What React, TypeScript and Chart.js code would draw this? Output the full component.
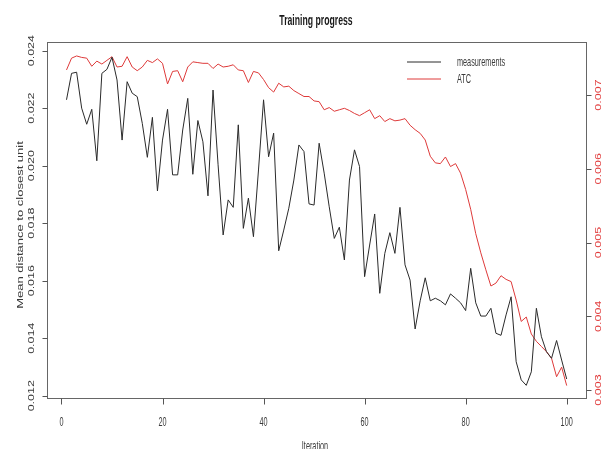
import React, { useEffect, useRef } from "react";
import { Chart, registerables } from "chart.js";

Chart.register(...registerables);

const iterations: number[] = Array.from({ length: 100 }, (_, i) => i + 1);

const measurements: number[] = [
  0.02229, 0.02321, 0.02325, 0.022, 0.02144, 0.02196, 0.02017, 0.02321, 0.02335, 0.02377,
  0.02298, 0.02089, 0.02292, 0.02252, 0.0224, 0.02147, 0.02029, 0.02168, 0.01912, 0.02089,
  0.02196, 0.01968, 0.01968, 0.02124, 0.02234, 0.0197, 0.02157, 0.02083, 0.01895, 0.02263,
  0.02003, 0.01759, 0.01881, 0.01855, 0.02142, 0.01782, 0.01887, 0.01753, 0.01985, 0.02229,
  0.02031, 0.02113, 0.01704, 0.01776, 0.01852, 0.0195, 0.02072, 0.02049, 0.01867, 0.01863,
  0.02078, 0.01974, 0.01857, 0.01747, 0.01786, 0.01672, 0.0195, 0.02055, 0.01997, 0.01614,
  0.01724, 0.01832, 0.01556, 0.01695, 0.01767, 0.01695, 0.01855, 0.01655, 0.01602, 0.01432,
  0.0153, 0.0161, 0.0153, 0.01539, 0.0153, 0.01516, 0.01554, 0.01539, 0.01523, 0.01496,
  0.01643, 0.01523, 0.01477, 0.01477, 0.01504, 0.01417, 0.0141, 0.01481, 0.01544, 0.01318,
  0.01255, 0.01236, 0.01283, 0.01504, 0.01405, 0.01353, 0.0133, 0.01392, 0.01324, 0.01258,
];

const atc: number[] = [
  0.00734, 0.0075, 0.00753, 0.00751, 0.0075, 0.00739, 0.00746, 0.00742, 0.00747, 0.00752,
  0.00738, 0.00739, 0.00752, 0.00738, 0.00733, 0.00738, 0.00747, 0.00744, 0.00749, 0.00743,
  0.00715, 0.00732, 0.00733, 0.00718, 0.00738, 0.00745, 0.00744, 0.00743, 0.00743, 0.00736,
  0.00742, 0.00738, 0.00739, 0.00741, 0.00734, 0.00733, 0.00717, 0.00732, 0.0073, 0.00721,
  0.0071, 0.00704, 0.00716, 0.00711, 0.00712, 0.00706, 0.00702, 0.00698, 0.00698, 0.00692,
  0.00691, 0.0068, 0.00683, 0.00678, 0.0068, 0.00682, 0.00679, 0.00675, 0.00672, 0.00676,
  0.0068, 0.00668, 0.00672, 0.00664, 0.00668, 0.00665, 0.00666, 0.00668, 0.00659, 0.00653,
  0.00648, 0.00639, 0.00617, 0.00608, 0.00607, 0.00616, 0.00603, 0.00607, 0.00594, 0.00572,
  0.00545, 0.00512, 0.00486, 0.00463, 0.00441, 0.00445, 0.00455, 0.0045, 0.00447, 0.00422,
  0.00393, 0.00399, 0.00376, 0.00366, 0.00359, 0.00352, 0.00343, 0.00318, 0.00331, 0.00306,
];

const xTicks: number[] = [0, 20, 40, 60, 80, 100];
const leftTicks: number[] = [0.012, 0.014, 0.016, 0.018, 0.02, 0.022, 0.024];
const rightTicks: number[] = [0.003, 0.004, 0.005, 0.006, 0.007];
const seriesNames: string[] = ["measurements", "ATC"];

const TITLE = "Training progress";
const X_TITLE = "Iteration";
const Y_TITLE = "Mean distance to closest unit";

const BLACK = "#2a2a2a";
const RED = "rgb(222,58,58)";
const TEXT = "#3a3a3a";
const FONT = "'Liberation Sans', Arial, sans-serif";

function drawText(
  ctx: CanvasRenderingContext2D,
  s: string,
  x: number,
  y: number,
  o: { font: string; color: string; rot?: number; sx?: number; align?: CanvasTextAlign }
) {
  ctx.save();
  ctx.translate(x, y);
  ctx.scale(o.sx ?? 1, 1);
  ctx.rotate(o.rot ?? 0);
  ctx.font = o.font;
  ctx.fillStyle = o.color;
  ctx.textAlign = o.align ?? "center";
  ctx.textBaseline = "middle";
  ctx.fillText(s, 0, 0);
  ctx.restore();
}

const decorPlugin = {
  id: "decor",
  afterDatasetsDraw(chart: any) {
    const ctx: CanvasRenderingContext2D = chart.ctx;
    const a = chart.chartArea;
    const xs = chart.scales.x;
    const yl = chart.scales.yL;
    const yr = chart.scales.yR;
    const HS = 0.56;
    const VS = 0.72;
    ctx.save();
    ctx.strokeStyle = "#666";
    ctx.lineWidth = 1;
    const L = Math.round(a.left) + 0.5;
    const R = Math.round(a.right) - 0.5;
    const T = Math.round(a.top) + 0.5;
    const B = Math.round(a.bottom) - 0.5;
    ctx.strokeRect(L, T, R - L, B - T);
    ctx.strokeStyle = "#555";
    ctx.beginPath();
    xTicks.forEach((t) => {
      const px = Math.round(xs.getPixelForValue(t)) + 0.5;
      ctx.moveTo(px, B);
      ctx.lineTo(px, B + 6);
    });
    leftTicks.forEach((t) => {
      const py = Math.round(yl.getPixelForValue(t)) + 0.5;
      ctx.moveTo(L, py);
      ctx.lineTo(L - 5, py);
    });
    rightTicks.forEach((t) => {
      const py = Math.round(yr.getPixelForValue(t)) + 0.5;
      ctx.moveTo(R, py);
      ctx.lineTo(R + 5, py);
    });
    ctx.stroke();
    xTicks.forEach((t) => {
      drawText(ctx, String(t), xs.getPixelForValue(t), 422, {
        font: `13px ${FONT}`,
        color: TEXT,
        sx: HS,
      });
    });
    leftTicks.forEach((t) => {
      drawText(ctx, t.toFixed(3), 32, yl.getPixelForValue(t), {
        font: `12.5px ${FONT}`,
        color: TEXT,
        rot: -Math.PI / 2,
        sx: VS,
      });
    });
    rightTicks.forEach((t) => {
      drawText(ctx, t.toFixed(3), 598.5, yr.getPixelForValue(t), {
        font: `12.5px ${FONT}`,
        color: "rgb(225,60,60)",
        rot: -Math.PI / 2,
        sx: VS,
      });
    });
    drawText(ctx, TITLE, 316, 21, { font: `bold 15.5px ${FONT}`, color: "#1a1a1a", sx: HS });
    drawText(ctx, X_TITLE, 315, 446, { font: `13px ${FONT}`, color: TEXT, sx: HS });
    drawText(ctx, Y_TITLE, 20.5, 225, {
      font: `13px ${FONT}`,
      color: TEXT,
      rot: -Math.PI / 2,
      sx: VS,
    });
    const colors = [BLACK, RED];
    const ly = [62, 79];
    seriesNames.forEach((n, i) => {
      ctx.strokeStyle = colors[i];
      ctx.lineWidth = 1;
      ctx.beginPath();
      ctx.moveTo(407, ly[i]);
      ctx.lineTo(441, ly[i]);
      ctx.stroke();
      drawText(ctx, n, 457, ly[i], { font: `13px ${FONT}`, color: TEXT, sx: HS, align: "left" });
    });
    ctx.restore();
  },
};

export default function App() {
  const ref = useRef<HTMLCanvasElement | null>(null);
  useEffect(() => {
    if (!ref.current) return;
    const chart = new Chart(ref.current, {
      type: "line",
      data: {
        datasets: [
          {
            label: seriesNames[0],
            data: iterations.map((x, i) => ({ x, y: measurements[i] })),
            borderColor: BLACK,
            borderWidth: 1,
            pointRadius: 0,
            tension: 0,
            yAxisID: "yL",
          },
          {
            label: seriesNames[1],
            data: iterations.map((x, i) => ({ x, y: atc[i] })),
            borderColor: RED,
            borderWidth: 1,
            pointRadius: 0,
            tension: 0,
            yAxisID: "yR",
          },
        ],
      },
      options: {
        animation: false,
        responsive: false,
        devicePixelRatio: 1,
        layout: { padding: { left: 46.5, right: 19.3, top: 42.3, bottom: 49.7 } },
        plugins: { legend: { display: false }, tooltip: { enabled: false }, title: { display: false } },
        scales: {
          x: { type: "linear", min: -2.96, max: 103.96, display: false },
          yL: { type: "linear", position: "left", min: 0.011875, max: 0.02429, display: false },
          yR: { type: "linear", position: "right", min: 0.002874, max: 0.007715, display: false },
        },
      },
      plugins: [decorPlugin],
    });
    return () => chart.destroy();
  }, []);
  return (
    <div style={{ position: "fixed", left: 0, top: 0, width: 606, height: 449, background: "#fff" }}>
      <canvas ref={ref} width={606} height={449} style={{ width: 606, height: 449 }} />
    </div>
  );
}
